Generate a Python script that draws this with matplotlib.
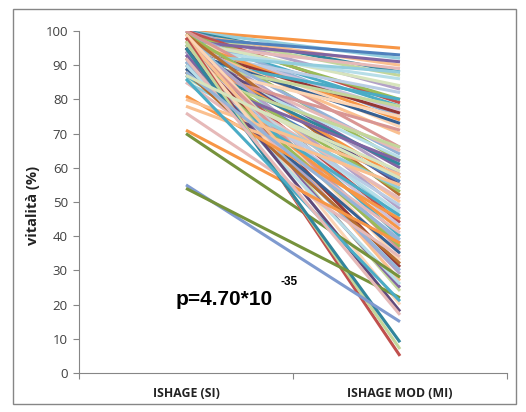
import numpy as np
import matplotlib
matplotlib.use('Agg')
from matplotlib import pyplot as plt
from matplotlib.patches import Rectangle

categories = ['ISHAGE (SI)', 'ISHAGE MOD (MI)']

# vitality per sample: SI value, MI value
si = [100, 100, 100, 99, 100, 99, 98, 100, 99, 97, 98, 96, 99, 97, 95, 98, 96, 94, 100, 97,
      93, 95, 99, 92, 96, 98, 94, 91, 97, 93, 95, 90, 99, 92, 96, 89, 94, 98, 91, 93,
      97, 88, 90, 95, 92, 87, 96, 89, 94, 86, 91, 99, 93, 88, 97, 90, 85, 95, 92, 87,
      98, 94, 89, 96, 91, 85, 93, 97, 88, 90, 95, 81, 80, 78, 76, 71, 70, 98, 97, 95,
      55, 54, 86, 92, 88, 87]
mi = [95, 92, 88, 90, 83, 87, 93, 79, 80, 91, 78, 89, 75, 84, 86, 72, 77, 82, 66, 74,
      88, 76, 62, 80, 70, 58, 73, 78, 64, 65, 60, 75, 52, 63, 55, 71, 57, 45, 61, 50,
      48, 66, 56, 44, 53, 62, 40, 51, 38, 59, 47, 33, 43, 49, 36, 42, 54, 31, 37, 46,
      27, 29, 35, 24, 30, 41, 25, 20, 32, 26, 18, 45, 58, 55, 34, 38, 28, 5, 7, 9,
      15, 22, 21, 17, 39, 57]

p_text = 'p=4.70*10'
p_exp = '-35'

palette = ['#F79646', '#93CDDD', '#31859C', '#FAC090', '#B3A2C7', '#C3D69B',
           '#4F81BD', '#C0504D', '#9BBB59', '#8064A2', '#4BACC6', '#E6B9B8',
           '#95B3D7', '#D7E4BD', '#B7DEE8', '#FCD5B5', '#CCC1DA', '#B9CDE5',
           '#D99694', '#F79646', '#93CDDD', '#953735', '#9BBB59', '#4BACC6',
           '#FAC090', '#B3A2C7', '#376092', '#C3D69B', '#95B3D7', '#E6B9B8',
           '#8064A2', '#FCD5B5', '#B66D31', '#B7DEE8', '#604A7B', '#D99694']

special = {(55, 15): '#7F9ACF', (54, 22): '#76923C', (98, 5): '#C0504D',
           (97, 7): '#C3D69B', (95, 9): '#31859C', (71, 38): '#F79646',
           (70, 28): '#76923C', (81, 45): '#F79646', (80, 58): '#FAC090',
           (78, 55): '#FAC090', (76, 34): '#E6B9B8', (100, 95): '#F79646'}

fig = plt.figure(figsize=(5.26, 4.12), dpi=100)
ax = fig.add_axes([79 / 526, 1 - 373 / 412, 428 / 526, 342 / 412])

x = [0, 1]
for i in range(len(si)):
    c = special.get((si[i], mi[i]), palette[i % len(palette)])
    ax.plot(x, [si[i], mi[i]], color=c, lw=2.2, solid_capstyle='butt')

ax.set_xlim(-0.5, 1.5)
ax.set_ylim(0, 100)
ax.set_yticks(np.arange(0, 101, 10))
ax.set_xticks([-0.5, 0.5, 1.5])
ax.set_xticklabels([])
ax.set_xticks([0, 1], minor=True)
ax.set_xticklabels(categories, minor=True, fontsize=8.8, fontweight='bold',
                   family='Open Sans', color='#222222')
ax.tick_params(axis='x', which='minor', length=0, pad=10)
ax.tick_params(axis='x', which='major', length=4, color='#868686', direction='out')
ax.tick_params(axis='y', length=4, color='#868686', direction='out', pad=4,
               labelsize=9.5, labelcolor='#404040')
for lab in ax.get_yticklabels():
    lab.set_family('Open Sans')
for s in ['top', 'right']:
    ax.spines[s].set_visible(False)
for s in ['left', 'bottom']:
    ax.spines[s].set_color('#868686')

fig.text(33 / 526, 1 - 205 / 412, 'vitalità (%)', rotation=90, ha='center', va='center',
         fontsize=10.5, fontweight='bold', family='Open Sans', color='#222222')

ax.text(-0.051, 19.9, p_text, ha='left', va='baseline', fontsize=15, fontweight='bold',
        family='Liberation Sans', color='black')
ax.text(0.44, 25.6, p_exp, ha='left', va='baseline', fontsize=8.5, fontweight='bold',
        family='Liberation Sans', color='black')

fig.patches.append(Rectangle((13 / 526, 1 - 404 / 412), 503 / 526, 395 / 412,
                             transform=fig.transFigure, fill=False, ec='#868686', lw=1))

fig.savefig('out.png', dpi=100)
